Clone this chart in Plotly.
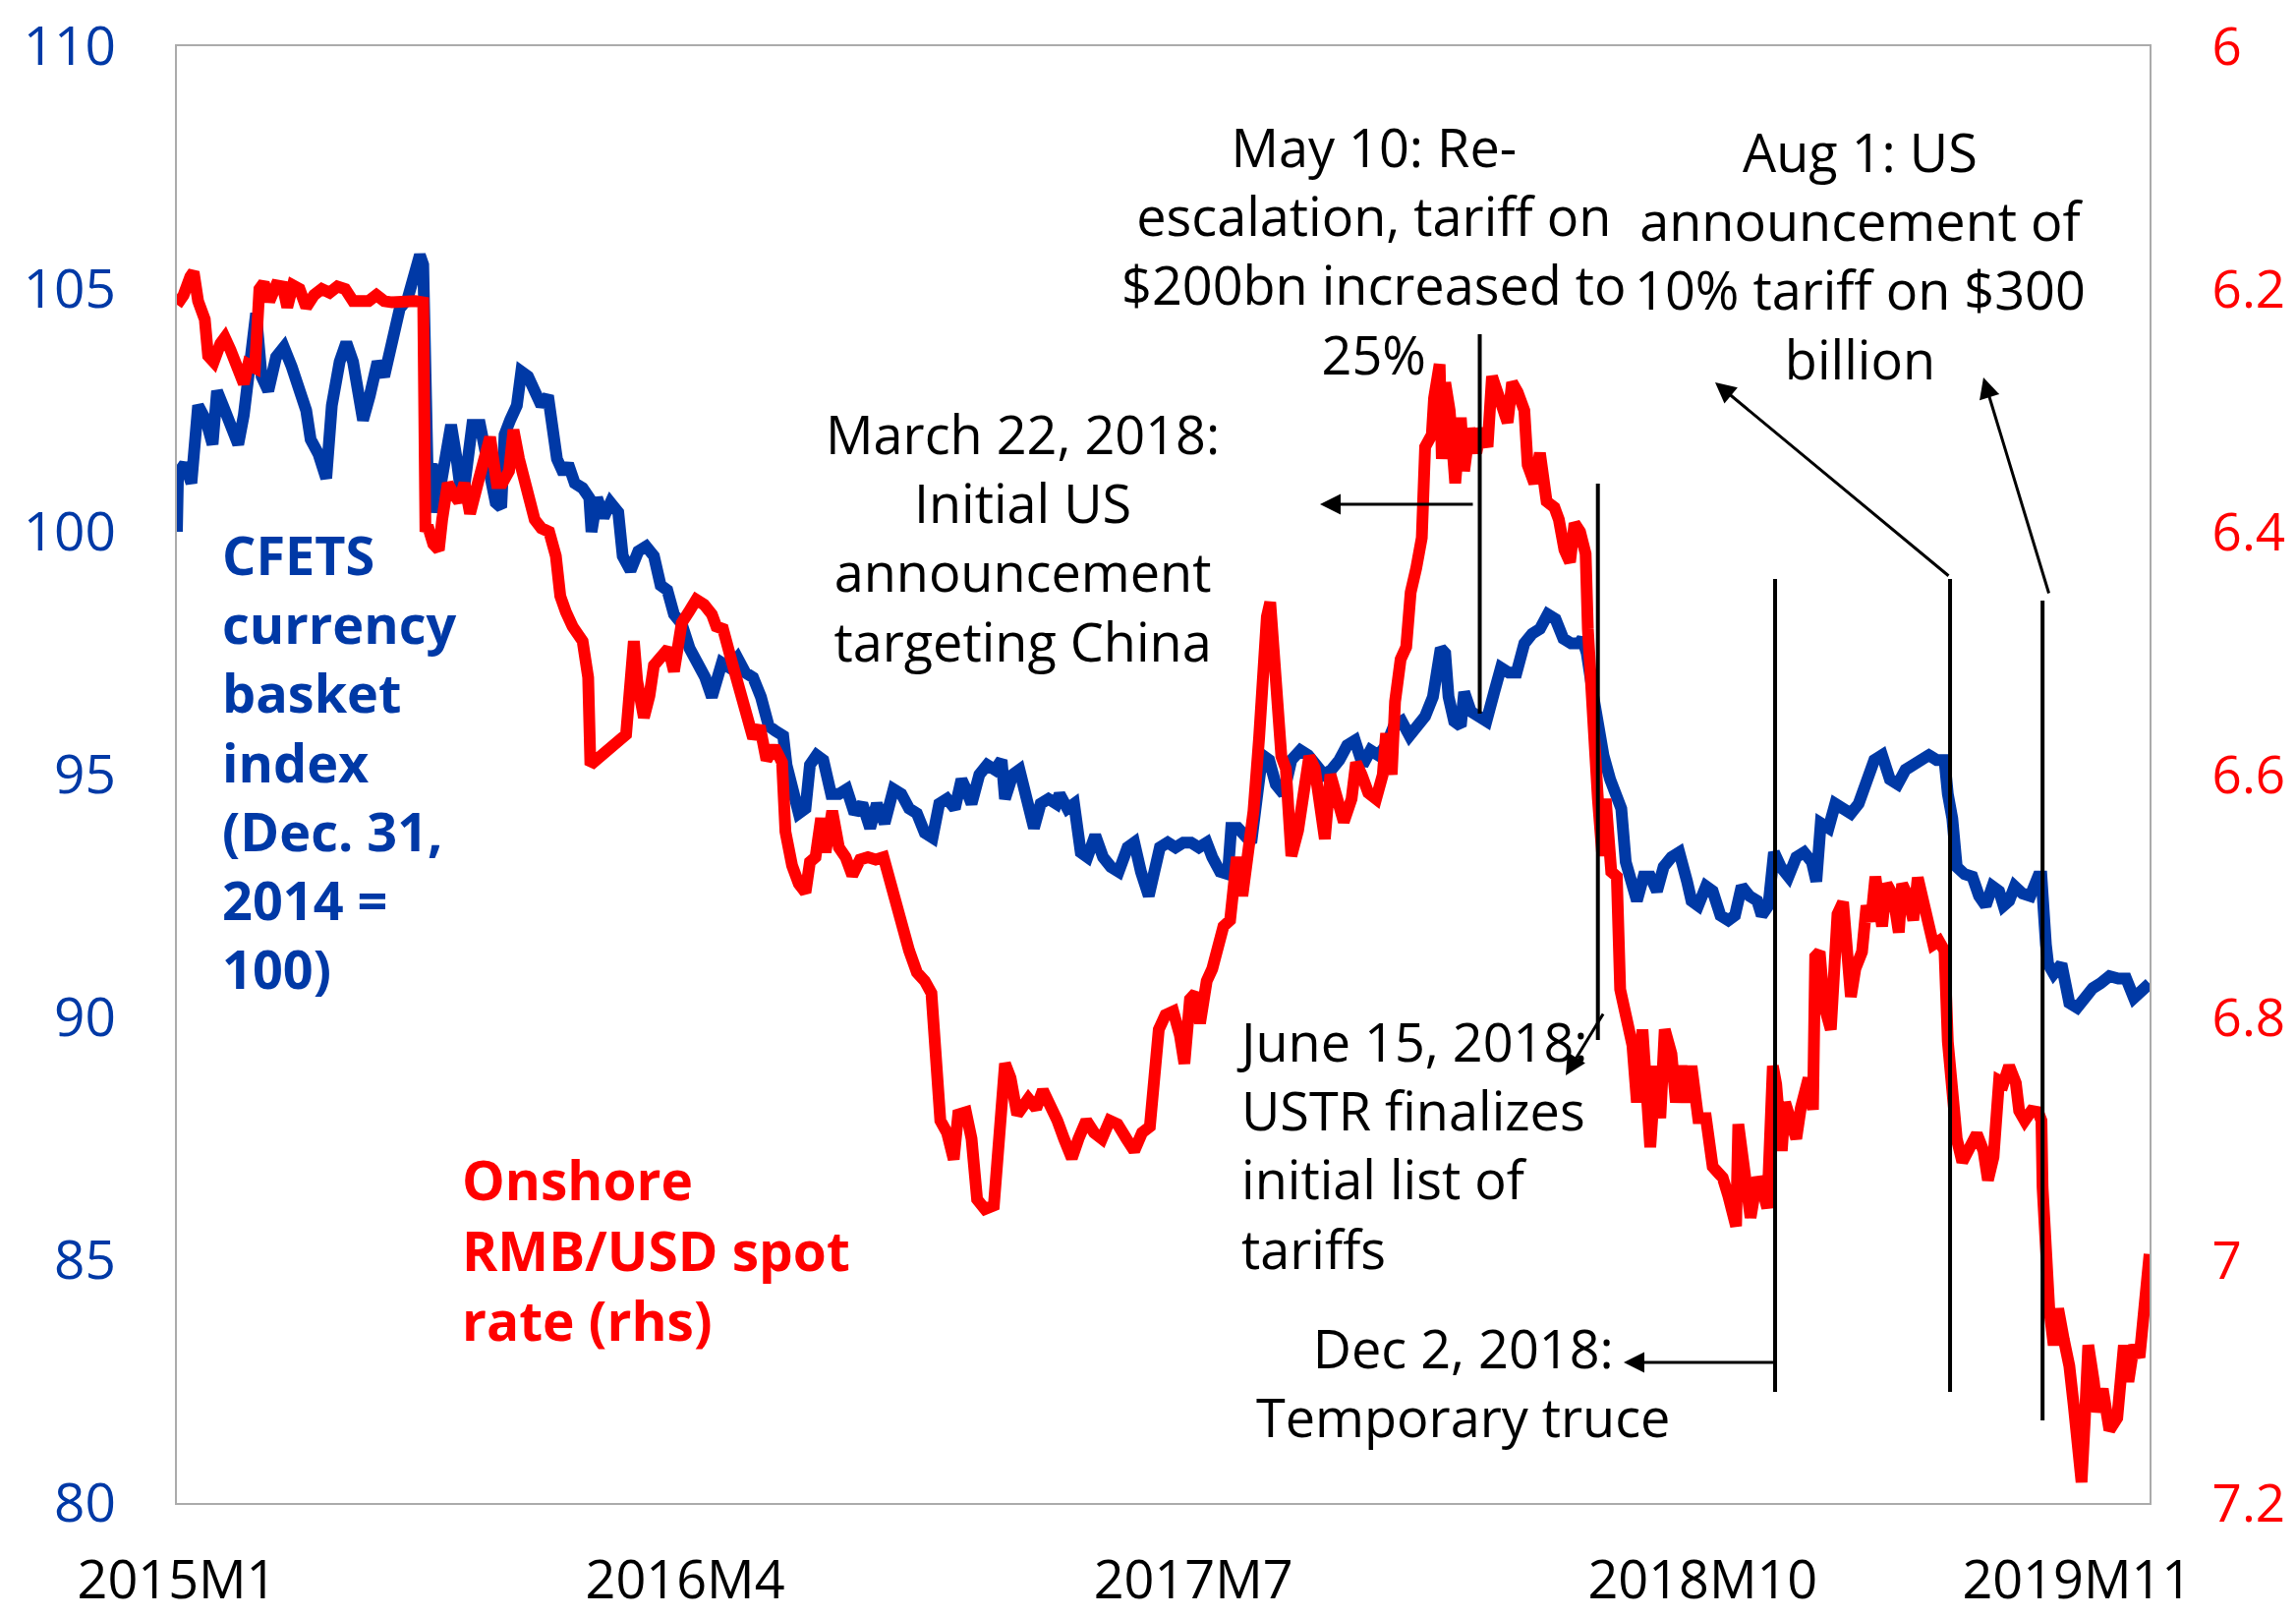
import plotly.graph_objects as go

# ---------------- data ----------------
cfets_dates = [
    "2015-01-01","2015-01-02","2015-01-08","2015-01-14","2015-01-20","2015-01-27","2015-02-02","2015-02-06",
    "2015-02-13","2015-02-19","2015-02-25","2015-03-02","2015-03-09","2015-03-13","2015-03-18","2015-03-24",
    "2015-03-31","2015-04-07","2015-04-14","2015-04-21","2015-04-27","2015-05-01","2015-05-08","2015-05-15",
    "2015-05-20","2015-05-27","2015-06-02","2015-06-08","2015-06-12","2015-06-17","2015-06-23","2015-06-30",
    "2015-07-06","2015-07-13","2015-07-20","2015-07-27","2015-08-03","2015-08-07","2015-08-10","2015-08-12",
    "2015-08-14","2015-08-18","2015-08-21","2015-08-26","2015-08-31","2015-09-04","2015-09-09","2015-09-14",
    "2015-09-18","2015-09-23","2015-09-30","2015-10-08","2015-10-14","2015-10-19","2015-10-22","2015-10-27",
    "2015-11-02","2015-11-06","2015-11-12","2015-11-18","2015-11-24","2015-11-30","2015-12-04","2015-12-08",
    "2015-12-14","2015-12-18","2015-12-24","2015-12-31","2016-01-06","2016-01-08","2016-01-13","2016-01-19",
    "2016-01-25","2016-02-01","2016-02-05","2016-02-12","2016-02-19","2016-02-26","2016-03-04","2016-03-10",
    "2016-03-16","2016-03-22","2016-03-29","2016-04-05","2016-04-12","2016-04-19","2016-04-25","2016-04-28",
    "2016-05-04","2016-05-11","2016-05-18","2016-05-25","2016-06-01","2016-06-08","2016-06-15","2016-06-21",
    "2016-06-28","2016-07-01","2016-07-06","2016-07-12","2016-07-18","2016-07-22","2016-07-28","2016-08-03",
    "2016-08-10","2016-08-17","2016-08-24","2016-08-31","2016-09-07","2016-09-14","2016-09-20","2016-09-27",
    "2016-10-05","2016-10-12","2016-10-19","2016-10-26","2016-11-02","2016-11-09","2016-11-15","2016-11-22",
    "2016-11-29","2016-12-05","2016-12-09","2016-12-14","2016-12-21","2016-12-28","2017-01-04","2017-01-10",
    "2017-01-13","2017-01-20","2017-01-26","2017-02-02","2017-02-08","2017-02-14","2017-02-21","2017-02-28",
    "2017-03-03","2017-03-10","2017-03-16","2017-03-22","2017-03-28","2017-04-04","2017-04-11","2017-04-18",
    "2017-04-25","2017-05-03","2017-05-09","2017-05-15","2017-05-22","2017-05-26","2017-06-01","2017-06-08",
    "2017-06-15","2017-06-22","2017-06-29","2017-07-06","2017-07-13","2017-07-18","2017-07-25","2017-08-01",
    "2017-08-04","2017-08-10","2017-08-16","2017-08-22","2017-08-28","2017-09-01","2017-09-07","2017-09-13",
    "2017-09-20","2017-09-27","2017-10-05","2017-10-12","2017-10-19","2017-10-26","2017-11-02","2017-11-09",
    "2017-11-16","2017-11-23","2017-11-30","2017-12-07","2017-12-14","2017-12-21","2017-12-28","2018-01-04",
    "2018-01-11","2018-01-18","2018-01-25","2018-02-01","2018-02-08","2018-02-12","2018-02-15","2018-02-20",
    "2018-02-26","2018-03-01","2018-03-07","2018-03-14","2018-03-21","2018-03-28","2018-04-03","2018-04-10",
    "2018-04-17","2018-04-24","2018-05-01","2018-05-08","2018-05-15","2018-05-22","2018-05-29","2018-06-05",
    "2018-06-12","2018-06-15","2018-06-19","2018-06-25","2018-06-29","2018-07-04","2018-07-10","2018-07-16",
    "2018-07-20","2018-07-24","2018-07-30","2018-08-03","2018-08-09","2018-08-15","2018-08-21","2018-08-27",
    "2018-09-03","2018-09-10","2018-09-17","2018-09-21","2018-09-27","2018-10-04","2018-10-10","2018-10-17",
    "2018-10-24","2018-10-30","2018-11-05","2018-11-12","2018-11-19","2018-11-23","2018-11-29","2018-12-04",
    "2018-12-10","2018-12-17","2018-12-24","2018-12-31","2019-01-07","2019-01-11","2019-01-15","2019-01-22",
    "2019-01-28","2019-02-04","2019-02-11","2019-02-18","2019-02-25","2019-03-04","2019-03-11","2019-03-18",
    "2019-03-25","2019-04-01","2019-04-08","2019-04-15","2019-04-22","2019-04-29","2019-05-06","2019-05-09",
    "2019-05-13","2019-05-17","2019-05-24","2019-05-31","2019-06-06","2019-06-12","2019-06-18","2019-06-24",
    "2019-06-28","2019-07-03","2019-07-08","2019-07-15","2019-07-22","2019-07-29","2019-08-01","2019-08-05",
    "2019-08-07","2019-08-12","2019-08-19","2019-08-26","2019-09-02","2019-09-09","2019-09-16","2019-09-23",
    "2019-10-01","2019-10-09","2019-10-16","2019-10-23","2019-10-29","2019-11-06",
]
cfets_values = [
    100.0,101.2,101.4,101.0,102.6,102.3,101.8,102.9,
    102.5,102.2,101.8,102.4,103.5,104.5,103.2,102.9,
    103.6,103.8,103.4,103.0,102.5,101.9,101.6,101.1,
    102.6,103.5,103.9,103.5,102.8,102.3,102.8,103.5,
    103.2,104.0,104.6,104.8,105.4,105.7,105.5,101.8,
    101.2,101.4,100.4,101.0,101.6,102.2,101.5,100.6,
    101.3,102.2,102.2,101.4,100.6,100.5,102.0,102.3,
    102.6,103.3,103.2,102.9,102.6,102.8,102.2,101.5,
    101.2,101.4,101.0,100.9,100.7,100.0,100.7,100.3,
    100.6,100.4,99.5,99.2,99.6,99.7,99.5,98.9,
    98.8,98.3,98.1,97.6,97.3,97.0,96.6,96.8,
    97.3,97.2,97.4,97.1,97.0,96.6,96.0,95.9,
    95.8,95.2,94.6,94.2,94.3,95.2,95.4,95.3,
    94.6,94.6,94.7,94.2,94.4,93.9,94.4,94.0,
    94.7,94.6,94.3,94.2,93.8,93.7,94.4,94.5,
    94.3,94.9,94.7,94.4,95.0,95.2,95.1,95.3,
    94.5,95.0,95.1,94.3,93.9,94.4,94.5,94.4,
    94.6,94.3,94.4,93.4,93.3,93.75,93.3,93.1,
    93.0,93.5,93.6,93.0,92.5,92.9,93.5,93.6,
    93.5,93.6,93.6,93.5,93.6,93.3,93.0,92.95,
    93.9,93.9,93.7,93.6,94.7,95.4,95.3,94.8,
    94.6,95.3,95.5,95.4,95.2,95.0,95.1,95.3,
    95.6,95.7,95.2,95.5,95.4,95.6,96.0,96.1,
    95.8,96.0,96.2,96.6,97.6,97.5,96.6,96.1,
    96.0,96.7,96.3,96.2,96.1,96.7,97.2,97.1,
    97.1,97.7,97.9,98.0,98.3,98.2,97.8,97.7,
    97.7,97.8,97.5,96.6,95.9,95.4,94.9,94.6,
    94.3,93.2,92.6,92.4,92.9,92.9,92.6,93.1,
    93.3,93.4,92.8,92.4,92.3,92.7,92.6,92.1,
    92.0,92.1,92.7,92.5,92.4,92.1,92.3,93.4,
    93.1,92.9,93.3,93.4,93.2,92.8,94.0,93.9,
    94.4,94.3,94.2,94.4,94.9,95.3,95.4,94.9,
    94.8,95.1,95.2,95.3,95.4,95.3,95.3,94.6,
    94.1,93.1,92.95,92.9,92.5,92.3,92.7,92.6,
    92.3,92.4,92.7,92.55,92.5,92.9,92.9,91.5,
    91.1,90.9,91.1,90.3,90.2,90.4,90.6,90.7,
    90.85,90.8,90.8,90.4,90.5,90.7,
]

rmb_dates = [
    "2015-01-01","2015-01-07","2015-01-13","2015-01-16","2015-01-20","2015-01-26","2015-01-29","2015-02-03",
    "2015-02-09","2015-02-13","2015-02-18","2015-02-25","2015-03-02","2015-03-06","2015-03-12","2015-03-16",
    "2015-03-20","2015-03-25","2015-03-31","2015-04-06","2015-04-10","2015-04-15","2015-04-21","2015-04-27",
    "2015-05-04","2015-05-11","2015-05-18","2015-05-25","2015-06-01","2015-06-08","2015-06-15","2015-06-22",
    "2015-06-29","2015-07-06","2015-07-13","2015-07-20","2015-07-27","2015-08-03","2015-08-10","2015-08-11",
    "2015-08-12","2015-08-14","2015-08-19","2015-08-24","2015-08-27","2015-09-01","2015-09-07","2015-09-11",
    "2015-09-16","2015-09-21","2015-09-28","2015-10-09","2015-10-15","2015-10-20","2015-10-26","2015-10-30",
    "2015-11-04","2015-11-09","2015-11-13","2015-11-18","2015-11-24","2015-12-01","2015-12-07","2015-12-11",
    "2015-12-16","2015-12-22","2015-12-31","2016-01-05","2016-01-07","2016-01-12","2016-01-18","2016-01-25",
    "2016-02-01","2016-02-08","2016-02-15","2016-02-18","2016-02-24","2016-02-29","2016-03-04","2016-03-10",
    "2016-03-17","2016-03-22","2016-03-29","2016-04-05","2016-04-11","2016-04-18","2016-04-25","2016-04-29",
    "2016-05-05","2016-05-12","2016-05-18","2016-05-25","2016-06-01","2016-06-07","2016-06-13","2016-06-20",
    "2016-06-27","2016-06-30","2016-07-06","2016-07-12","2016-07-18","2016-07-22","2016-07-27","2016-08-01",
    "2016-08-05","2016-08-11","2016-08-17","2016-08-23","2016-08-29","2016-09-05","2016-09-12","2016-09-19",
    "2016-09-26","2016-10-10","2016-10-14","2016-10-19","2016-10-26","2016-11-02","2016-11-08","2016-11-11",
    "2016-11-16","2016-11-22","2016-11-28","2016-12-02","2016-12-09","2016-12-14","2016-12-19","2016-12-26",
    "2017-01-03","2017-01-06","2017-01-10","2017-01-13","2017-01-18","2017-01-24","2017-02-03","2017-02-10",
    "2017-02-16","2017-02-22","2017-03-01","2017-03-07","2017-03-14","2017-03-20","2017-03-27","2017-04-03",
    "2017-04-10","2017-04-17","2017-04-24","2017-05-02","2017-05-09","2017-05-16","2017-05-23","2017-05-26",
    "2017-05-31","2017-06-06","2017-06-13","2017-06-19","2017-06-23","2017-06-28","2017-07-03","2017-07-07",
    "2017-07-13","2017-07-18","2017-07-24","2017-07-28","2017-08-03","2017-08-09","2017-08-14","2017-08-18",
    "2017-08-24","2017-08-29","2017-09-01","2017-09-05","2017-09-08","2017-09-13","2017-09-18","2017-09-22",
    "2017-09-27","2017-10-03","2017-10-09","2017-10-13","2017-10-18","2017-10-23","2017-10-27","2017-11-01",
    "2017-11-07","2017-11-13","2017-11-20","2017-11-24","2017-11-29","2017-12-05","2017-12-12","2017-12-18",
    "2017-12-21","2017-12-26","2017-12-29","2018-01-03","2018-01-08","2018-01-12","2018-01-17","2018-01-22",
    "2018-01-25","2018-01-31","2018-02-02","2018-02-07","2018-02-09","2018-02-12","2018-02-16","2018-02-21",
    "2018-02-26","2018-03-01","2018-03-06","2018-03-12","2018-03-16","2018-03-22","2018-03-26","2018-03-29",
    "2018-04-03","2018-04-09","2018-04-13","2018-04-18","2018-04-24","2018-04-27","2018-05-03","2018-05-08",
    "2018-05-14","2018-05-21","2018-05-25","2018-05-30","2018-06-04","2018-06-08","2018-06-13","2018-06-18",
    "2018-06-20","2018-06-22","2018-06-26","2018-06-29","2018-07-03","2018-07-06","2018-07-11","2018-07-16",
    "2018-07-19","2018-07-24","2018-07-30","2018-08-03","2018-08-08","2018-08-15","2018-08-20","2018-08-24",
    "2018-08-28","2018-09-03","2018-09-07","2018-09-12","2018-09-17","2018-09-21","2018-09-27","2018-10-04",
    "2018-10-10","2018-10-16","2018-10-19","2018-10-24","2018-10-29","2018-10-31","2018-11-02","2018-11-07",
    "2018-11-13","2018-11-19","2018-11-23","2018-11-28","2018-12-03","2018-12-06","2018-12-11","2018-12-14",
    "2018-12-19","2018-12-24","2018-12-28","2019-01-04","2019-01-08","2019-01-10","2019-01-14","2019-01-18",
    "2019-01-24","2019-01-30","2019-02-04","2019-02-11","2019-02-15","2019-02-21","2019-02-25","2019-03-01",
    "2019-03-05","2019-03-11","2019-03-15","2019-03-21","2019-03-26","2019-03-29","2019-04-03","2019-04-08",
    "2019-04-12","2019-04-17","2019-04-22","2019-04-26","2019-05-01","2019-05-06","2019-05-09","2019-05-13",
    "2019-05-17","2019-05-22","2019-05-29","2019-06-04","2019-06-10","2019-06-14","2019-06-19","2019-06-24",
    "2019-06-28","2019-07-03","2019-07-09","2019-07-12","2019-07-17","2019-07-23","2019-07-29","2019-08-01",
    "2019-08-02","2019-08-05","2019-08-08","2019-08-12","2019-08-16","2019-08-21","2019-08-26","2019-08-30",
    "2019-09-03","2019-09-06","2019-09-09","2019-09-12","2019-09-17","2019-09-20","2019-09-25","2019-10-01",
    "2019-10-08","2019-10-14","2019-10-18","2019-10-23","2019-10-28","2019-11-01","2019-11-04","2019-11-06",
]
rmb_values = [
    6.213,6.205,6.19,6.186,6.21,6.225,6.255,6.26,
    6.245,6.24,6.25,6.27,6.278,6.262,6.265,6.20,
    6.195,6.21,6.197,6.198,6.215,6.197,6.20,6.215,
    6.205,6.20,6.203,6.198,6.20,6.21,6.211,6.21,
    6.205,6.21,6.211,6.21,6.211,6.21,6.211,6.33,
    6.40,6.395,6.41,6.415,6.39,6.36,6.37,6.375,
    6.36,6.385,6.36,6.322,6.36,6.36,6.35,6.316,
    6.34,6.36,6.38,6.39,6.397,6.40,6.42,6.453,
    6.466,6.478,6.49,6.52,6.592,6.588,6.585,6.578,
    6.575,6.567,6.49,6.523,6.553,6.535,6.51,6.505,
    6.496,6.515,6.475,6.465,6.456,6.46,6.468,6.478,
    6.48,6.504,6.523,6.55,6.57,6.56,6.588,6.577,
    6.59,6.647,6.675,6.69,6.697,6.672,6.668,6.636,
    6.664,6.63,6.66,6.668,6.683,6.67,6.668,6.67,
    6.668,6.715,6.733,6.745,6.763,6.77,6.78,6.81,
    6.885,6.895,6.917,6.88,6.878,6.90,6.95,6.958,
    6.955,6.92,6.885,6.838,6.85,6.88,6.867,6.875,
    6.86,6.87,6.885,6.90,6.916,6.90,6.885,6.895,
    6.90,6.885,6.888,6.90,6.91,6.895,6.89,6.86,
    6.81,6.798,6.795,6.815,6.838,6.785,6.78,6.805,
    6.77,6.76,6.74,6.725,6.72,6.668,6.70,6.675,
    6.63,6.57,6.52,6.47,6.458,6.53,6.585,6.595,
    6.667,6.646,6.60,6.585,6.595,6.639,6.653,6.60,
    6.62,6.639,6.62,6.59,6.60,6.615,6.62,6.60,
    6.566,6.60,6.54,6.505,6.495,6.45,6.43,6.405,
    6.33,6.32,6.29,6.262,6.34,6.277,6.30,6.36,
    6.306,6.35,6.315,6.335,6.315,6.33,6.272,6.28,
    6.296,6.31,6.277,6.285,6.30,6.345,6.36,6.335,
    6.375,6.38,6.39,6.415,6.425,6.393,6.40,6.418,
    6.48,6.52,6.60,6.62,6.667,6.62,6.68,6.684,
    6.777,6.80,6.823,6.87,6.81,6.907,6.84,6.883,
    6.81,6.83,6.87,6.84,6.87,6.84,6.883,6.883,
    6.923,6.929,6.932,6.947,6.962,6.972,6.888,6.93,
    6.965,6.932,6.94,6.957,6.84,6.855,6.91,6.87,
    6.885,6.90,6.875,6.85,6.876,6.75,6.746,6.79,
    6.81,6.715,6.705,6.783,6.76,6.746,6.708,6.721,
    6.684,6.725,6.69,6.70,6.73,6.69,6.70,6.72,
    6.685,6.705,6.72,6.74,6.737,6.745,6.82,6.877,
    6.90,6.919,6.905,6.896,6.91,6.934,6.915,6.852,
    6.854,6.84,6.854,6.877,6.885,6.877,6.878,6.885,
    6.94,7.02,7.04,7.07,7.04,7.065,7.087,7.12,
    7.175,7.183,7.13,7.07,7.10,7.125,7.106,7.14,
    7.13,7.07,7.10,7.07,7.08,7.035,7.03,6.995,
]

x_tick_vals = ["2015-01-01", "2016-04-01", "2017-07-01", "2018-10-01", "2019-09-02"]
x_tick_text = ["2015M1", "2016M4", "2017M7", "2018M10", "2019M11"]
left_ticks = [80, 85, 90, 95, 100, 105, 110]
right_ticks = [6.0, 6.2, 6.4, 6.6, 6.8, 7.0, 7.2]
right_tick_text = ["6", "6.2", "6.4", "6.6", "6.8", "7", "7.2"]

event_dates = ["2018-03-15", "2018-06-29", "2018-12-05", "2019-05-11", "2019-08-02"]

# ---------------- style ----------------
BLUE = "#0039A6"
RED = "#FF0000"
FONT = "Open Sans"
OFF = 8                      # default page body margin
W, H = 2336 - 2 * OFF, 1645 - OFF
L, R, T, B = 180, 2187, 47, 1529   # target plot area (page pixels)


def px(xp):
    return (xp - L) / (R - L)


def py(yp):
    return (B - yp) / (B - T)


fig = go.Figure()
fig.add_trace(go.Scatter(
    x=cfets_dates, y=cfets_values, mode="lines", yaxis="y",
    line=dict(color=BLUE, width=12), name="CFETS", showlegend=False,
))
fig.add_trace(go.Scatter(
    x=rmb_dates, y=rmb_values, mode="lines", yaxis="y2",
    line=dict(color=RED, width=12), name="RMB/USD", showlegend=False,
))

frame = "#ABABAB"
fig.update_layout(
    template="none",
    width=W, height=H, autosize=False,
    paper_bgcolor="white", plot_bgcolor="white",
    margin=dict(l=L - OFF, r=W - (R - OFF), t=T - OFF, b=H - (B - OFF), pad=0, autoexpand=False),
    font=dict(family=FONT, size=54, color="black"),
    xaxis=dict(
        type="date", range=["2015-01-01", "2019-11-06"],
        tickvals=x_tick_vals, ticktext=x_tick_text,
        tickfont=dict(size=54, color="black"),
        showgrid=False, zeroline=False, automargin=False,
        showline=True, linecolor=frame, linewidth=2, mirror=True,
        ticks="outside", ticklen=30, tickcolor="rgba(0,0,0,0)",
        ticklabeloverflow="allow",
    ),
    yaxis=dict(
        range=[80, 110], tickvals=left_ticks,
        tickfont=dict(size=55, color=BLUE),
        showgrid=False, zeroline=False, automargin=False,
        showline=True, linecolor=frame, linewidth=2, mirror=True,
        ticks="outside", ticklen=49, tickcolor="rgba(0,0,0,0)",
        ticklabeloverflow="allow",
    ),
    yaxis2=dict(
        range=[7.2, 6.0], tickvals=right_ticks, ticktext=right_tick_text,
        overlaying="y", side="right",
        tickfont=dict(size=53, color=RED),
        showgrid=False, zeroline=False, showline=False, automargin=False,
        ticks="outside", ticklen=52, tickcolor="rgba(0,0,0,0)",
        ticklabeloverflow="allow",
    ),
)

# event vertical lines
line_spans = [(340, 726), (492, 1058), (589, 1416), (589, 1416), (611, 1445)]
for d, (y_top, y_bot) in zip(event_dates, line_spans):
    fig.add_shape(type="line", xref="x", yref="paper", x0=d, x1=d,
                  y0=py(y_top), y1=py(y_bot), line=dict(color="black", width=4))

# arrows: (head_x, head_y, tail_x, tail_y) in page pixels
arrows = [
    (1343, 513, 1500, 513),
    (1593, 1094, 1632, 1030),
    (1652, 1386, 1806, 1386),
    (1745, 389, 1984, 587),
    (2018, 384, 2085, 605),
]
for hx, hy, tx, ty in arrows:
    fig.add_annotation(x=px(hx), y=py(hy), xref="paper", yref="paper", text="",
                       showarrow=True, ax=tx - hx, ay=ty - hy, axref="pixel", ayref="pixel",
                       arrowhead=2, arrowsize=1.4, arrowwidth=3, arrowcolor="black",
                       standoff=0, startstandoff=0)

# text labels
texts = [
    ("<b>CFETS<br>currency<br>basket<br>index<br>(Dec. 31,<br>2014 =<br>100)</b>", 224, 774, "left", BLUE, 54),
    ("<b>Onshore<br>RMB/USD spot<br>rate (rhs)</b>", 468, 1271, "left", RED, 55),
    ("March 22, 2018:<br>Initial US<br>announcement<br>targeting China", 1040, 546, "center", "black", 54),
    ("May 10: Re-<br>escalation, tariff on<br>$200bn increased to<br>25%", 1398, 254, "center", "black", 54),
    ("Aug 1: US<br>announcement of<br>10% tariff on $300<br>billion", 1892, 260, "center", "black", 54),
    ("June 15, 2018:<br>USTR finalizes<br>initial list of<br>tariffs", 1256, 1164, "left", "black", 54),
    ("Dec 2, 2018:<br>Temporary truce", 1488, 1406, "center", "black", 54),
]
for txt, xx, yy, al, col, fs in texts:
    anchor = "left" if al == "left" else "center"
    fig.add_annotation(x=px(xx), y=py(yy), xref="paper", yref="paper", text=txt,
                       showarrow=False, xanchor=anchor, yanchor="middle", align=al,
                       font=dict(family=FONT, size=fs, color=col))

fig.write_html("out.html")
